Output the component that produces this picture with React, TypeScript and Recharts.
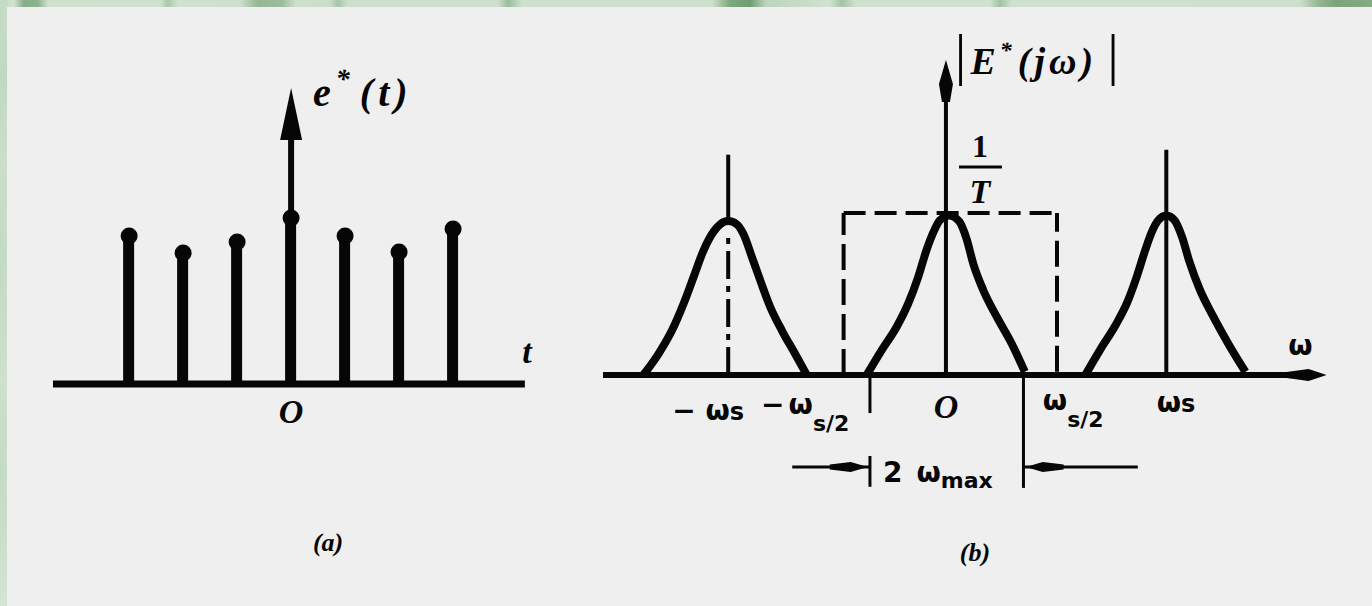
import React from 'react';
import {
  ComposedChart,
  XAxis,
  YAxis,
  Bar,
  Line,
  ReferenceLine,
  ReferenceDot,
} from 'recharts';

// ---- (a) sampled signal e*(t): sample instants (in periods T) and sample values
const sampleTimes = [-3, -2, -1, 0, 1, 2, 3];
const sampleValues = [1.48, 1.31, 1.42, 1.66, 1.48, 1.32, 1.55];

// ---- (b) amplitude spectrum |E*(jω)|, ω in units of ωs, magnitude in units of 1/T
const leftPeakW = [-1.39, -1.32, -1.258, -1.205, -1.159, -1.113, -1.067, -1.037, -1.0, -0.96, -0.93, -0.891, -0.853, -0.807, -0.754, -0.693, -0.639];
const leftPeakM = [0, 0.131, 0.276, 0.44, 0.605, 0.77, 0.885, 0.93, 0.95, 0.93, 0.87, 0.728, 0.585, 0.42, 0.276, 0.131, 0];
const centerPeakW = [-0.364, -0.295, -0.226, -0.173, -0.127, -0.089, -0.058, -0.028, 0.015, 0.06, 0.095, 0.125, 0.171, 0.233, 0.301, 0.362];
const centerPeakM = [0, 0.154, 0.298, 0.442, 0.607, 0.772, 0.88, 0.955, 0.985, 0.95, 0.84, 0.689, 0.525, 0.36, 0.196, 0.02];
const rightPeakW = [0.64, 0.71, 0.78, 0.833, 0.877, 0.915, 0.946, 0.975, 1.012, 1.05, 1.085, 1.118, 1.165, 1.228, 1.298, 1.375];
const rightPeakM = [0, 0.16, 0.31, 0.45, 0.61, 0.77, 0.885, 0.955, 0.985, 0.955, 0.85, 0.7, 0.53, 0.36, 0.19, 0.02];

// ideal low-pass window (1/T high, edges at ±ωs/2) and the 2ωmax band edges
const windowLeft = -0.47;
const windowRight = 0.51;
const windowHeight = 1;
const bandLeft = -0.349;
const bandRight = 0.356;
const harmonicLeft = -1;
const harmonicRight = 1.012;

const samples = sampleTimes.map((t, i) => ({ t, v: sampleValues[i] }));
const toSeries = (w: number[], m: number[]) => w.map((x, i) => ({ w: x, m: m[i] }));
const leftPeak = toSeries(leftPeakW, leftPeakM);
const centerPeak = toSeries(centerPeakW, centerPeakM);
const rightPeak = toSeries(rightPeakW, rightPeakM);

const INK = '#060606';
const SERIF = '"Liberation Serif", "DejaVu Serif", serif';
const SANS = '"DejaVu Sans", "Liberation Sans", sans-serif';

type P = { cx?: number; cy?: number };

const arrowUp = (w: number, h: number) => (p: P) => {
  const { cx = 0, cy = 0 } = p;
  return <polygon points={`${cx},${cy} ${cx - w / 2},${cy + h} ${cx + w / 2},${cy + h}`} fill={INK} />;
};

const spindleUp = (p: P) => {
  const { cx = 0, cy = 0 } = p;
  return (
    <polygon
      points={`${cx},${cy} ${cx - 7},${cy + 24} ${cx - 4},${cy + 42} ${cx + 4},${cy + 42} ${cx + 7},${cy + 24}`}
      fill={INK}
    />
  );
};

const arrowSide = (dir: 1 | -1, len: number, half: number) => (p: P) => {
  const { cx = 0, cy = 0 } = p;
  const b = cx - dir * len;
  const m = cx - dir * len * 0.45;
  return (
    <polygon
      points={`${cx},${cy} ${m},${cy - half} ${b},${cy - half * 0.5} ${b},${cy + half * 0.5} ${m},${cy + half}`}
      fill={INK}
    />
  );
};

const dotShape = (p: P) => <circle cx={p.cx} cy={p.cy} r={8.5} fill={INK} />;

const textAt =
  (children: React.ReactNode, attrs: React.SVGProps<SVGTextElement>) =>
  (p: P) => (
    <text x={p.cx} y={p.cy} fill={INK} {...attrs}>
      {children}
    </text>
  );

const serifBI = { fontFamily: SERIF, fontStyle: 'italic', fontWeight: 700 } as const;
const sansB = { fontFamily: SANS, fontWeight: 700 } as const;

function PanelA() {
  return (
    <ComposedChart
      width={1372}
      height={606}
      data={samples}
      margin={{ top: 84, right: 832, bottom: 47, left: 53 }}
    >
      <XAxis dataKey="t" type="number" domain={[-4.41, 4.61]} allowDataOverflow hide />
      <YAxis type="number" domain={[-1.75, 3]} allowDataOverflow hide />

      {/* time axis and e*(t) axis */}
      <ReferenceLine segment={[{ x: -4.41, y: 0 }, { x: 4.33, y: 0 }]} stroke={INK} strokeWidth={7} />
      <ReferenceLine segment={[{ x: 0, y: 0 }, { x: 0, y: 2.5 }]} stroke={INK} strokeWidth={6} />
      <ReferenceDot x={0} y={2.96} r={0} shape={arrowUp(22, 52)} />

      {/* impulse samples */}
      <Bar dataKey="v" barSize={11} fill={INK} isAnimationActive={false} />
      <Line
        dataKey="v"
        stroke="none"
        dot={dotShape}
        activeDot={false}
        isAnimationActive={false}
      />

      <ReferenceDot
        x={0.407}
        y={2.78}
        r={0}
        shape={textAt(
          <>
            e
            <tspan dx={5} dy={-18} fontSize={28}>*</tspan>
            <tspan dx={10} dy={18} letterSpacing={5}>(t)</tspan>
          </>,
          { ...serifBI, fontSize: 40 },
        )}
      />
      <ReferenceDot x={4.37} y={0.21} r={0} shape={textAt('t', { ...serifBI, fontSize: 34, textAnchor: 'middle' })} />
      <ReferenceDot x={0} y={-0.39} r={0} shape={textAt('O', { ...serifBI, fontSize: 34, textAnchor: 'middle' })} />
      <ReferenceDot x={0.685} y={-1.67} r={0} shape={textAt('(a)', { ...serifBI, fontSize: 26, textAnchor: 'middle' })} />
    </ComposedChart>
  );
}

function PanelB() {
  return (
    <ComposedChart width={1372} height={606} margin={{ top: 51, right: 45, bottom: 36.6, left: 603 }}>
      <XAxis dataKey="w" type="number" domain={[-1.575, 1.75]} allowDataOverflow hide />
      <YAxis type="number" domain={[-1.2, 2]} allowDataOverflow hide />

      {/* ω axis with arrow */}
      <ReferenceLine segment={[{ x: -1.575, y: 0 }, { x: 1.6, y: 0 }]} stroke={INK} strokeWidth={6} />
      <ReferenceDot x={1.748} y={0} r={0} shape={arrowSide(1, 40, 6)} />

      {/* |E*(jω)| axis with arrow */}
      <ReferenceLine segment={[{ x: 0, y: 0 }, { x: 0, y: 1.7 }]} stroke={INK} strokeWidth={4} />
      <ReferenceDot x={0} y={1.944} r={0} shape={spindleUp} />

      {/* ideal filter window */}
      <ReferenceLine
        segment={[{ x: windowLeft, y: windowHeight }, { x: windowRight, y: windowHeight }]}
        stroke={INK}
        strokeWidth={4}
        strokeDasharray="22 9"
      />
      <ReferenceLine
        segment={[{ x: windowLeft, y: 0 }, { x: windowLeft, y: windowHeight }]}
        stroke={INK}
        strokeWidth={4}
        strokeDasharray="26 9"
      />
      <ReferenceLine
        segment={[{ x: windowRight, y: 0.02 }, { x: windowRight, y: windowHeight }]}
        stroke={INK}
        strokeWidth={4}
        strokeDasharray="26 9"
      />

      {/* harmonic impulses at ±ωs */}
      <ReferenceLine segment={[{ x: harmonicLeft, y: 0.94 }, { x: harmonicLeft, y: 1.36 }]} stroke={INK} strokeWidth={4} />
      <ReferenceLine
        segment={[{ x: harmonicLeft, y: 0 }, { x: harmonicLeft, y: 0.87 }]}
        stroke={INK}
        strokeWidth={4}
        strokeDasharray="28 7 6 7"
      />
      <ReferenceLine segment={[{ x: harmonicRight, y: 0 }, { x: harmonicRight, y: 1.39 }]} stroke={INK} strokeWidth={4} />

      {/* spectrum replicas */}
      <Line data={leftPeak} dataKey="m" type="monotone" stroke={INK} strokeWidth={8} dot={false} activeDot={false} strokeLinejoin="round" isAnimationActive={false} />
      <Line data={centerPeak} dataKey="m" type="monotone" stroke={INK} strokeWidth={8} dot={false} activeDot={false} strokeLinejoin="round" isAnimationActive={false} />
      <Line data={rightPeak} dataKey="m" type="monotone" stroke={INK} strokeWidth={8} dot={false} activeDot={false} strokeLinejoin="round" isAnimationActive={false} />

      {/* 2ωmax dimension */}
      <ReferenceLine segment={[{ x: bandLeft, y: 0 }, { x: bandLeft, y: -0.235 }]} stroke={INK} strokeWidth={3} />
      <ReferenceLine segment={[{ x: bandLeft, y: -0.5 }, { x: bandLeft, y: -0.69 }]} stroke={INK} strokeWidth={3} />
      <ReferenceLine segment={[{ x: bandRight, y: 0 }, { x: bandRight, y: -0.697 }]} stroke={INK} strokeWidth={3} />
      <ReferenceLine segment={[{ x: -0.706, y: -0.568 }, { x: bandLeft, y: -0.568 }]} stroke={INK} strokeWidth={3} />
      <ReferenceLine segment={[{ x: bandRight, y: -0.568 }, { x: 0.881, y: -0.568 }]} stroke={INK} strokeWidth={3} />
      <ReferenceDot x={bandLeft - 0.01} y={-0.568} r={0} shape={arrowSide(1, 38, 5)} />
      <ReferenceDot x={bandRight + 0.01} y={-0.568} r={0} shape={arrowSide(-1, 38, 5)} />

      {/* 1/T */}
      <ReferenceLine segment={[{ x: 0.06, y: 1.284 }, { x: 0.257, y: 1.284 }]} stroke={INK} strokeWidth={3} />
      <ReferenceDot x={0.156} y={1.346} r={0} shape={textAt('1', { fontFamily: SERIF, fontWeight: 700, fontSize: 32, textAnchor: 'middle' })} />
      <ReferenceDot x={0.156} y={1.062} r={0} shape={textAt('T', { ...serifBI, fontSize: 34, textAnchor: 'middle' })} />

      {/* |E*(jω)| */}
      <ReferenceDot
        x={0.041}
        y={1.858}
        r={0}
        shape={textAt(
          <>
            <tspan fontSize={58} fontStyle="normal" fontWeight={400}>|</tspan>
            <tspan dx={4}>E</tspan>
            <tspan dx={4} dy={-16} fontSize={24}>*</tspan>
            <tspan dx={6} dy={16} letterSpacing={4}>(jω)</tspan>
            <tspan dx={10} fontSize={58} fontStyle="normal" fontWeight={400}>|</tspan>
          </>,
          { ...serifBI, fontSize: 38 },
        )}
      />

      {/* axis labels */}
      <ReferenceDot x={1.628} y={0.123} r={0} shape={textAt('ω', { ...sansB, fontSize: 28, textAnchor: 'middle' })} />
      <ReferenceDot
        x={-1.257}
        y={-0.278}
        r={0}
        shape={textAt(
          <>
            − ω<tspan fontSize={24}>s</tspan>
          </>,
          { ...sansB, fontSize: 28 },
        )}
      />
      <ReferenceDot
        x={-0.849}
        y={-0.241}
        r={0}
        shape={textAt(
          <>
            −<tspan dx={4}>ω</tspan>
            <tspan dy={17} fontSize={22}>s/2</tspan>
          </>,
          { ...sansB, fontSize: 28 },
        )}
      />
      <ReferenceDot x={0} y={-0.265} r={0} shape={textAt('O', { ...serifBI, fontSize: 34, textAnchor: 'middle' })} />
      <ReferenceDot
        x={0.445}
        y={-0.216}
        r={0}
        shape={textAt(
          <>
            ω<tspan dy={17} fontSize={22}>s/2</tspan>
          </>,
          { ...sansB, fontSize: 28 },
        )}
      />
      <ReferenceDot
        x={0.968}
        y={-0.228}
        r={0}
        shape={textAt(
          <>
            ω<tspan fontSize={24}>s</tspan>
          </>,
          { ...sansB, fontSize: 28 },
        )}
      />
      <ReferenceDot
        x={-0.289}
        y={-0.66}
        r={0}
        shape={textAt(
          <>
            2<tspan dx={14}>ω</tspan>
            <tspan dy={6} fontSize={22}>max</tspan>
          </>,
          { ...sansB, fontSize: 28 },
        )}
      />
      <ReferenceDot x={0.133} y={-1.148} r={0} shape={textAt('(b)', { ...serifBI, fontSize: 26, textAnchor: 'middle' })} />
    </ComposedChart>
  );
}

export default function App() {
  return (
    <div style={{ position: 'fixed', left: 0, top: 0, width: 1372, height: 606, overflow: 'hidden' }}>
      <div
        style={{
          position: 'absolute',
          left: 0,
          top: 0,
          width: 1372,
          height: 8,
          background:
            'linear-gradient(to right, #cadfca 0px, #cfe2cf 14px, #86ad86 24px, #8fb48f 38px, #cde1cd 48px, #cfe2cf 160px, #a9c8a9 168px, #cfe2cf 178px, #cde0cd 240px, #93b793 258px, #9cbd9c 282px, #cde0cd 296px, #c9dec9 330px, #a7c6a7 338px, #cde0cd 348px, #cde0cd 498px, #9abd9a 508px, #cde0cd 522px, #cde0cd 712px, #7ea87e 730px, #6f9c6f 750px, #bcd5bc 766px, #cfe2cf 830px, #a3c4a3 842px, #cfe2cf 856px, #cfe2cf 990px, #a2c3a2 1000px, #cfe2cf 1012px, #cde0cd 1300px, #94b894 1318px, #7aa57a 1335px, #84ab84 1372px)',
        }}
      />
      <div
        style={{
          position: 'absolute',
          left: 0,
          top: 0,
          width: 8,
          height: 606,
          background:
            'linear-gradient(to bottom, #c6dcc6 0px, #c0d8c0 80px, #cbdfcb 160px, #c3dac3 260px, #cde1cd 380px, #c4dbc4 470px, #cde1cd 560px, #d3e5d3 606px)',
        }}
      />
      <div style={{ position: 'absolute', left: 7, top: 7, width: 1365, height: 599, background: '#efefef' }} />
      <div style={{ position: 'absolute', left: 0, top: 0 }}>
        <PanelA />
      </div>
      <div style={{ position: 'absolute', left: 0, top: 0 }}>
        <PanelB />
      </div>
    </div>
  );
}
